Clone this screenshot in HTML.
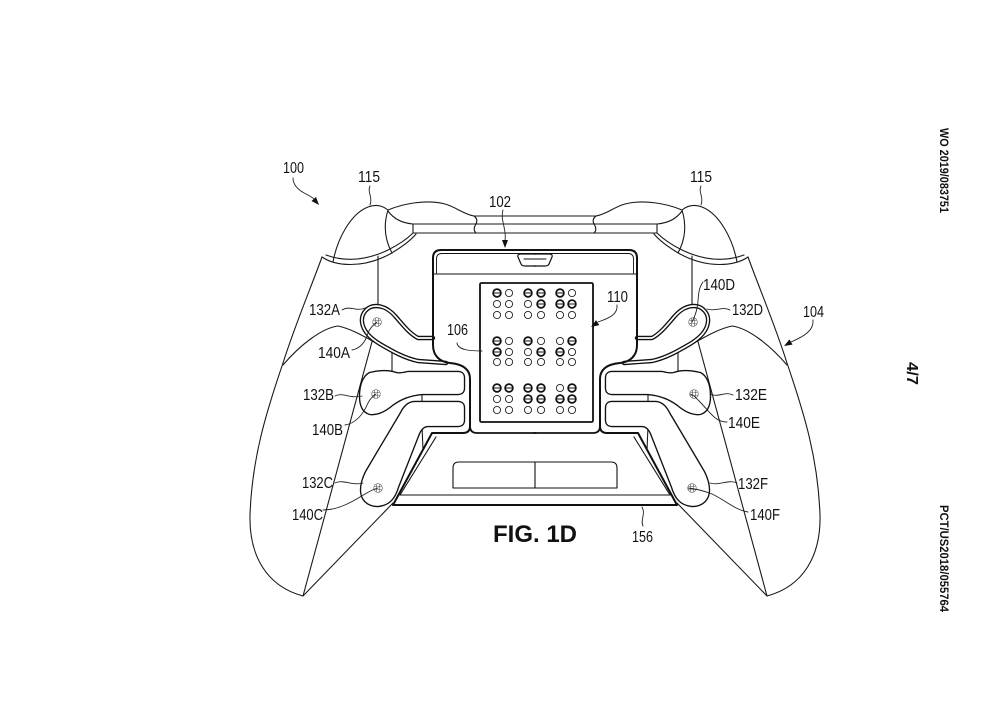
<!DOCTYPE html>
<html><head><meta charset="utf-8"><style>
html,body{margin:0;padding:0;background:#fff;}
svg{display:block;}
text{font-family:"Liberation Sans",sans-serif;fill:#111;}
</style></head><body>
<svg width="1000" height="707" viewBox="0 0 1000 707" xmlns="http://www.w3.org/2000/svg">
<defs>
<g id="half">
 <g fill="none" stroke="#1a1a1a" stroke-width="1.1" stroke-linecap="round" stroke-linejoin="round">
  <path d="M333 262 C337 240 350 214 368 207 C376 204 383 206 388 210"/>
  <path d="M388 210 C383 226 385 240 392 253"/>
  <path d="M322 257 C335 266 362 269 390 254 C402 247 411 240 416 234"/>
  <path d="M326 255 C345 262 365 261 388 250 C400 244 408 238 413 233"/>
  <path d="M388 210 C402 204 426 199 445 204 C456 207 463 214 474 216 L536 216"/>
  <path d="M388 211 C393 218 401 223 413 224 L536 224"/>
  <path d="M413 224 L413 233 L536 233"/>
  <path d="M474 216 C478 219 477 222 476 224 C474 227 473 230 476 233"/>
  <path d="M322 257 C310 290 295 325 283 363 C266 413 252 458 250 515 C249 555 266 586 303 596"/>
  <path d="M303 596 L373 338"/>
  <path d="M303 596 L393 503"/>
  <path d="M378 256 L378 307"/>
  <path d="M283 365 C300 345 322 328 338 326 C352 329 365 337 376 343"/>
  <path d="M392 352 L392 372"/>
  <path d="M422 393 L422 404"/>
  <path d="M422 426 L423 450"/>
 </g>
 <!-- paddles -->
 <g stroke-linejoin="round" stroke-linecap="round">
  <path d="M433 338 L418 338 C410 334 403 325 396 317 C390 310 384 306 376 306 C367 306 361 314 362 322 C363 331 370 338 380 344 C392 351 404 358 418 361 L446 363 L433 350 Z" fill="#fff" stroke="none"/>
  <path d="M433 338 L418 338 C410 334 403 325 396 317 C390 310 384 306 376 306 C367 306 361 314 362 322 C363 331 370 338 380 344 C392 351 404 358 418 361 L446 363" fill="none" stroke="#111" stroke-width="4.4"/>
  <path d="M433 338 L418 338 C410 334 403 325 396 317 C390 310 384 306 376 306 C367 306 361 314 362 322 C363 331 370 338 380 344 C392 351 404 358 418 361 L446 363" fill="none" stroke="#fff" stroke-width="1.7"/>

  <path d="M370 374 C378 372 388 371 396 374 C400 375 404 374 408 373 L458 373 Q463 373 463 378 L463 388 Q463 393 458 393 L422 393 C410 394 400 398 392 404 C385 410 378 414 370 413 C363 411 361 404 361 396 C361 386 364 377 370 374 Z" fill="#fff" stroke="#111" stroke-width="4.4"/>
  <path d="M370 374 C378 372 388 371 396 374 C400 375 404 374 408 373 L458 373 Q463 373 463 378 L463 388 Q463 393 458 393 L422 393 C410 394 400 398 392 404 C385 410 378 414 370 413 C363 411 361 404 361 396 C361 386 364 377 370 374 Z" fill="#fff" stroke="#fff" stroke-width="1.7"/>

  <path d="M415 403 L458 403 Q463 403 463 408 L463 420 Q463 425 458 425 L428 425 C422 425 419 430 417 436 L397 487 C394 497 389 504 378 505 C368 505 362 499 362 490 C362 484 364 478 367 472 L402 413 C405 407 409 403 415 403 Z" fill="#fff" stroke="#111" stroke-width="4.4"/>
  <path d="M415 403 L458 403 Q463 403 463 408 L463 420 Q463 425 458 425 L428 425 C422 425 419 430 417 436 L397 487 C394 497 389 504 378 505 C368 505 362 499 362 490 C362 484 364 478 367 472 L402 413 C405 407 409 403 415 403 Z" fill="#fff" stroke="#fff" stroke-width="1.7"/>
 </g>
 <!-- crosshairs -->
 <g fill="none" stroke="#555" stroke-width="0.6">
  <circle cx="377" cy="322" r="4.3"/><path d="M373.2 320.5 H380.8 M373.2 323.5 H380.8 M375.5 318.2 V325.8 M378.5 318.2 V325.8"/>
  <circle cx="376" cy="394" r="4.3"/><path d="M372.2 392.5 H379.8 M372.2 395.5 H379.8 M374.5 390.2 V397.8 M377.5 390.2 V397.8"/>
  <circle cx="378" cy="488" r="4.3"/><path d="M374.2 486.5 H381.8 M374.2 489.5 H381.8 M376.5 484.2 V491.8 M379.5 484.2 V491.8"/>
 </g>
 <!-- plate & frame -->
 <g fill="none" stroke="#111" stroke-linejoin="round" stroke-linecap="round">
  <path d="M536 250 L441 250 Q433 250 433 258 L433 345 C433 356 440 362 450 363 C461 364 470 368 470 379 L470 426 Q470 433 463 433 L432 433 L393 505 L536 505" stroke-width="2"/>
  <path d="M470 426 Q470 433 477 433 L536 433" stroke-width="1.8"/>
  <path d="M536 253.5 L442 253.5 Q436.5 253.5 436.5 259 L436.5 273" stroke-width="0.9"/>
  <path d="M433 274 L536 274" stroke-width="1.1"/>
  <path d="M436 437 L400 495 L536 495" stroke-width="1.1"/>
  <path d="M536 254 L521 254 Q517 254 518 257 L521 264 Q522 266 525 266 L536 266" stroke-width="1.2"/>
  <path d="M524 259 L536 259" stroke-width="0.9"/>
  <path d="M536 462 L459 462 Q453 462 453 468 L453 488 L536 488" stroke-width="1.1"/>
 </g>
</g>
</defs>

<use href="#half"/>
<use href="#half" transform="translate(1070,0) scale(-1,1)"/>
<path d="M535 462 L535 488" stroke="#111" stroke-width="1.1"/>

<!-- braille panel -->
<rect x="480" y="283" width="113" height="139" rx="1.5" fill="#fff" stroke="#111" stroke-width="1.8"/>
<g fill="none" stroke="#222" stroke-width="0.9">
 <circle cx="509" cy="293" r="3.6"/><circle cx="497" cy="304" r="3.6"/><circle cx="509" cy="304" r="3.6"/><circle cx="497" cy="315" r="3.6"/><circle cx="509" cy="315" r="3.6"/><circle cx="528" cy="304" r="3.6"/><circle cx="528" cy="315" r="3.6"/><circle cx="541" cy="315" r="3.6"/><circle cx="572" cy="293" r="3.6"/><circle cx="560" cy="315" r="3.6"/><circle cx="572" cy="315" r="3.6"/>
 <circle cx="509" cy="341" r="3.6"/><circle cx="509" cy="352" r="3.6"/><circle cx="497" cy="362" r="3.6"/><circle cx="509" cy="362" r="3.6"/><circle cx="541" cy="341" r="3.6"/><circle cx="528" cy="352" r="3.6"/><circle cx="528" cy="362" r="3.6"/><circle cx="541" cy="362" r="3.6"/><circle cx="560" cy="341" r="3.6"/><circle cx="572" cy="352" r="3.6"/><circle cx="560" cy="362" r="3.6"/><circle cx="572" cy="362" r="3.6"/>
 <circle cx="497" cy="399" r="3.6"/><circle cx="509" cy="399" r="3.6"/><circle cx="497" cy="410" r="3.6"/><circle cx="509" cy="410" r="3.6"/><circle cx="528" cy="410" r="3.6"/><circle cx="541" cy="410" r="3.6"/><circle cx="560" cy="388" r="3.6"/><circle cx="560" cy="410" r="3.6"/><circle cx="572" cy="410" r="3.6"/>
</g>
<g fill="none" stroke="#111" stroke-width="1.7">
 <circle cx="497" cy="293" r="3.9"/><circle cx="528" cy="293" r="3.9"/><circle cx="541" cy="293" r="3.9"/><circle cx="541" cy="304" r="3.9"/><circle cx="560" cy="293" r="3.9"/><circle cx="560" cy="304" r="3.9"/><circle cx="572" cy="304" r="3.9"/>
 <circle cx="497" cy="341" r="3.9"/><circle cx="497" cy="352" r="3.9"/><circle cx="528" cy="341" r="3.9"/><circle cx="541" cy="352" r="3.9"/><circle cx="572" cy="341" r="3.9"/><circle cx="560" cy="352" r="3.9"/>
 <circle cx="497" cy="388" r="3.9"/><circle cx="509" cy="388" r="3.9"/><circle cx="528" cy="388" r="3.9"/><circle cx="541" cy="388" r="3.9"/><circle cx="528" cy="399" r="3.9"/><circle cx="541" cy="399" r="3.9"/><circle cx="572" cy="388" r="3.9"/><circle cx="560" cy="399" r="3.9"/><circle cx="572" cy="399" r="3.9"/>
</g>
<g stroke="#111" stroke-width="1">
 <path d="M493 293 H501 M524 293 H532 M537 293 H545 M537 304 H545 M556 293 H564 M556 304 H564 M568 304 H576"/>
 <path d="M493 341 H501 M493 352 H501 M524 341 H532 M537 352 H545 M568 341 H576 M556 352 H564"/>
 <path d="M493 388 H501 M505 388 H513 M524 388 H532 M537 388 H545 M524 399 H532 M537 399 H545 M568 388 H576 M556 399 H564 M568 399 H576"/>
</g>

<!-- leaders -->
<g fill="none" stroke="#222" stroke-width="0.9" stroke-linecap="round">
 <path d="M293 178 C293 186 300 191 306 194 C310 196 312 197 314 199"/>
 <path d="M370 186 C367 192 373 197 370 205"/>
 <path d="M701 186 C698 192 704 197 701 205"/>
 <path d="M503 210 C500 220 507 230 505 240"/>
 <path d="M617 305 C618 314 610 318 598 322"/>
 <path d="M813 320 C814 330 805 336 791 342"/>
 <path d="M703 282 C697 290 699 300 697 308 C696 314 694 318 692 322"/>
 <path d="M730 310 C722 306 716 312 707 309"/>
 <path d="M733 395 C725 391 718 398 710 394"/>
 <path d="M727 422 C715 422 710 412 700 402 C696 398 694 395 690 394"/>
 <path d="M737 483 C728 479 720 486 710 483"/>
 <path d="M748 512 C735 510 725 500 712 494 C702 490 695 489 688 488"/>
 <path d="M342 310 C350 305 356 312 365 308"/>
 <path d="M352 350 C362 348 366 340 368 333 C370 328 373 325 377 322"/>
 <path d="M335 396 C343 392 350 399 362 396"/>
 <path d="M345 425 C358 423 365 410 368 403 C370 399 373 396 376 394"/>
 <path d="M335 483 C343 479 352 486 363 483"/>
 <path d="M323 510 C340 510 355 500 365 494 C370 491 374 489 378 488"/>
 <path d="M457 343 C458 350 470 351 482 351"/>
 <path d="M643 526 C640 520 646 514 642 507"/>
</g>
<g fill="#111">
 <polygon points="319,205 311.5,201 316,197"/>
 <polygon points="505,248 502,240 508,240"/>
 <polygon points="591,327 599.3,325.1 596,320.1"/>
 <polygon points="784,346 792.5,344.6 789.5,339.4"/>
</g>

<!-- labels -->
<g font-size="16">
 <text x="283" y="173" textLength="21" lengthAdjust="spacingAndGlyphs">100</text>
 <text x="358" y="182" textLength="22" lengthAdjust="spacingAndGlyphs">115</text>
 <text x="690" y="182" textLength="22" lengthAdjust="spacingAndGlyphs">115</text>
 <text x="489" y="207" textLength="22" lengthAdjust="spacingAndGlyphs">102</text>
 <text x="607" y="302" textLength="21" lengthAdjust="spacingAndGlyphs">110</text>
 <text x="703" y="290" textLength="32" lengthAdjust="spacingAndGlyphs">140D</text>
 <text x="732" y="315" textLength="31" lengthAdjust="spacingAndGlyphs">132D</text>
 <text x="803" y="317" textLength="21" lengthAdjust="spacingAndGlyphs">104</text>
 <text x="309" y="315" textLength="31" lengthAdjust="spacingAndGlyphs">132A</text>
 <text x="318" y="358" textLength="32" lengthAdjust="spacingAndGlyphs">140A</text>
 <text x="447" y="335" textLength="21" lengthAdjust="spacingAndGlyphs">106</text>
 <text x="303" y="400" textLength="31" lengthAdjust="spacingAndGlyphs">132B</text>
 <text x="312" y="435" textLength="31" lengthAdjust="spacingAndGlyphs">140B</text>
 <text x="735" y="400" textLength="32" lengthAdjust="spacingAndGlyphs">132E</text>
 <text x="728" y="428" textLength="32" lengthAdjust="spacingAndGlyphs">140E</text>
 <text x="302" y="488" textLength="31" lengthAdjust="spacingAndGlyphs">132C</text>
 <text x="292" y="520" textLength="31" lengthAdjust="spacingAndGlyphs">140C</text>
 <text x="738" y="489" textLength="30" lengthAdjust="spacingAndGlyphs">132F</text>
 <text x="750" y="520" textLength="30" lengthAdjust="spacingAndGlyphs">140F</text>
 <text x="632" y="542" textLength="21" lengthAdjust="spacingAndGlyphs">156</text>
</g>
<text x="493" y="542" font-size="24" font-weight="bold" textLength="84" lengthAdjust="spacingAndGlyphs">FIG. 1D</text>

<!-- side text -->
<g style="font-family:'Liberation Serif',serif;" font-weight="bold" font-size="12">
 <text transform="translate(940,128) rotate(90)" textLength="85" lengthAdjust="spacingAndGlyphs">WO 2019/083751</text>
 <text transform="translate(940,505) rotate(90)" textLength="107" lengthAdjust="spacingAndGlyphs">PCT/US2018/055764</text>
 <text transform="translate(907,362) rotate(90)" font-size="16" textLength="23" lengthAdjust="spacingAndGlyphs">4/7</text>
</g>
</svg>
</body></html>
